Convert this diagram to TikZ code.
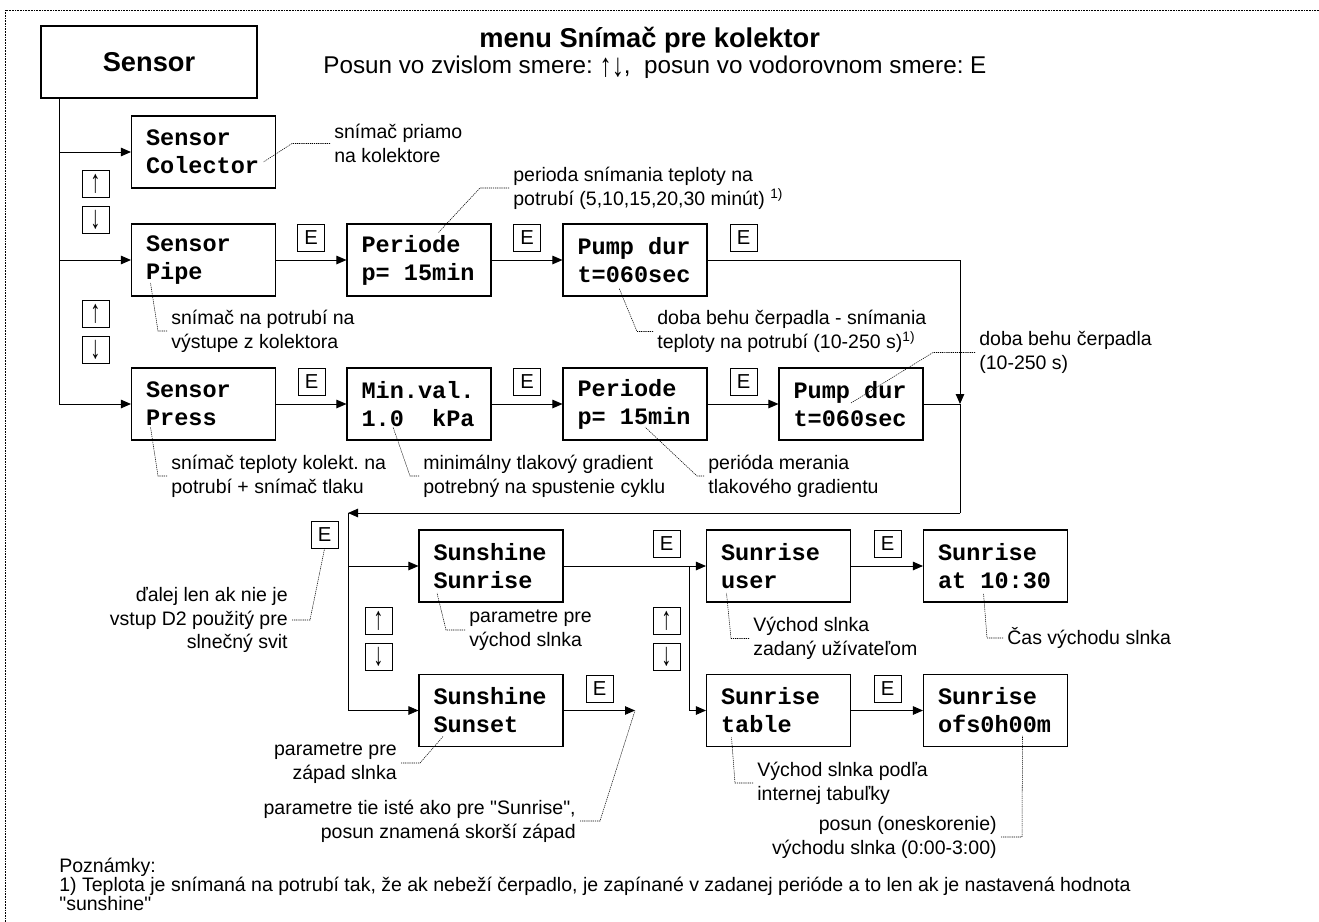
\documentclass[tikz,border=0pt]{standalone}
\usepackage{fontspec}
\setmainfont{Liberation Sans}
\setmonofont{Liberation Mono}
\usetikzlibrary{arrows.meta}
\newcommand\lsp{\phantom{x}}
\newcommand\tallarrows[1]{\scalebox{1}[1.6]{#1}}
\tikzset{
  lcd/.style={draw, line width=0.6pt, minimum width=28.8mm, minimum height=14.4mm, text width=23mm, inner xsep=2.9mm, align=left, font=\fontsize{13.4}{15.9}\selectfont\ttfamily\bfseries},
  ekey/.style={draw, line width=0.5pt, minimum size=5.4mm, inner sep=0pt, font=\fontsize{11.5}{13}\selectfont},
  remark/.style={inner xsep=0.8mm, inner ysep=0pt, align=left, font=\fontsize{11.1}{13.6}\selectfont},
  lead/.style={line width=0.3pt, dash pattern=on 0.7pt off 0.5pt},
  arr/.style={line width=0.5pt, -{Triangle[length=2mm,width=1.7mm]}},
  wire/.style={line width=0.5pt},
  border/.style={line width=0.5pt, dash pattern=on 0.5pt off 0.4pt}
}

\begin{document}
\frenchspacing
\begin{tikzpicture}[x=0.2mm, y=-0.2mm]
\useasboundingbox (0,0) rectangle (1319,922);
\draw[border] (5,922) -- (5,10) -- (1319,10);

\node[draw, line width=0.6pt, minimum width=43.2mm, minimum height=14.4mm, font=\fontsize{15.5}{18}\selectfont\bfseries] (sensor) at (149,62) {Sensor};
\node[anchor=west, inner sep=0pt, font=\fontsize{15.5}{18}\selectfont\bfseries] (title) at (479,40) {menu Snímač pre kolektor};
\node[anchor=west, inner sep=0pt, font=\fontsize{13.8}{16}\selectfont] (subtitle) at (323,67) {Posun vo zvislom smere: \raisebox{-0.25ex}{\scalebox{1}[1.35]{↑↓}},\ \ posun vo vodorovnom smere: E};

\node[lcd] (col) at (203.5,152) {Sensor\\Colector};
\node[lcd] (pipe) at (203.5,260) {Sensor\\Pipe};
\node[lcd] (per1) at (419,260) {Periode\\p=\lsp 15min};
\node[lcd] (pump1) at (635,260) {Pump\lsp dur\\t=060sec};
\node[lcd] (press) at (203.5,404) {Sensor\\Press};
\node[lcd] (minval) at (419,404) {Min.val.\\1.0\lsp\lsp kPa};
\node[lcd] (per2) at (635,404) {Periode\\p=\lsp 15min};
\node[lcd] (pump2) at (851,404) {Pump\lsp dur\\t=060sec};
\node[lcd] (rise) at (491,566) {Sunshine\\Sunrise};
\node[lcd] (set) at (491,710.5) {Sunshine\\Sunset};
\node[lcd] (user) at (778.5,566) {Sunrise\\user};
\node[lcd] (at) at (995.5,566) {Sunrise\\at\lsp 10:30};
\node[lcd] (table) at (778.5,710.5) {Sunrise\\table};
\node[lcd] (ofs) at (995.5,710.5) {Sunrise\\ofs0h00m};

\node[ekey] (up1) at (95.5,183.5) {\tallarrows{↑}};
\node[ekey] (dn1) at (95.5,219.5) {\tallarrows{↓}};
\node[ekey] (up2) at (95.5,314) {\tallarrows{↑}};
\node[ekey] (dn2) at (95.5,350) {\tallarrows{↓}};
\node[ekey] (up3) at (378.5,620.5) {\tallarrows{↑}};
\node[ekey] (dn3) at (378.5,656.5) {\tallarrows{↓}};
\node[ekey] (up4) at (666.5,620.5) {\tallarrows{↑}};
\node[ekey] (dn4) at (666.5,656.5) {\tallarrows{↓}};
\node[ekey] (e1) at (311,237.5) {E};
\node[ekey] (e2) at (527,237.5) {E};
\node[ekey] (e3) at (743.5,237.5) {E};
\node[ekey] (e4) at (311.5,382) {E};
\node[ekey] (e5) at (527,382) {E};
\node[ekey] (e6) at (743.5,382) {E};
\node[ekey] (eret) at (324.5,535) {E};
\node[ekey] (e7) at (666.5,544) {E};
\node[ekey] (e8) at (887.5,544) {E};
\node[ekey] (e9) at (599.5,688.5) {E};
\node[ekey] (e10) at (887.5,688.5) {E};

\coordinate (t) at (59,404);
\coordinate (r) at (960,513);
\coordinate (l) at (348,513);
\coordinate (b) at (689,566);
\coordinate (se) at (635,710.5);

\draw[wire] (sensor.south -| t) -- (t);
\draw[arr] (col.west -| t) -- (col);
\draw[arr] (pipe.west -| t) -- (pipe);
\draw[arr] (t) -- (press);
\draw[arr] (pipe) -- (per1);
\draw[arr] (per1) -- (pump1);
\draw[arr] (pump1) -| (pump2 -| r);
\draw[arr] (press) -- (minval);
\draw[arr] (minval) -- (per2);
\draw[arr] (per2) -- (pump2);
\draw[wire] (pump2) -- (pump2 -| r) -- (r);
\draw[arr] (r) -- (l);
\draw[arr] (l) |- (rise);
\draw[arr] (l) |- (set);
\draw[arr] (rise) -- (user);
\draw[arr] (b) |- (table);
\draw[arr] (user) -- (at);
\draw[arr] (table) -- (ofs);
\draw[arr] (set) -- (se);

\node[remark, anchor=west] (acol) at (330,143.5) {snímač priamo\\na kolektore};
\node[remark, anchor=west] (aper1) at (509,188) {perioda snímania teploty na\\potrubí (5,10,15,20,30 minút) \textsuperscript{1)}};
\node[remark, anchor=west] (apump1) at (653,331.5) {doba behu čerpadla - snímania\\teploty na potrubí (10-250 s)\textsuperscript{1)}};
\node[remark, anchor=west] (apump2) at (975,352.5) {doba behu čerpadla\\(10-250 s)};
\node[remark, anchor=west] (apipe) at (167,331) {snímač na potrubí na\\výstupe z kolektora};
\node[remark, anchor=west] (apress) at (167,476) {snímač teploty kolekt. na\\potrubí + snímač tlaku};
\node[remark, anchor=west] (amin) at (419,476) {minimálny tlakový gradient\\potrebný na spustenie cyklu};
\node[remark, anchor=west] (aper2) at (704,476) {perióda merania\\tlakového gradientu};
\node[remark, anchor=east, align=right] (acond) at (292,620) {ďalej len ak nie je\\vstup D2 použitý pre\\slnečný svit};
\node[remark, anchor=west] (arise) at (465,630) {parametre pre\\východ slnka};
\node[remark, anchor=west] (auser) at (749,638.5) {Východ slnka\\zadaný užívateľom};
\node[remark, anchor=west] (atime) at (1003,638) {Čas východu slnka};
\node[remark, anchor=west] (atable) at (753,783) {Východ slnka podľa\\internej tabuľky};
\node[remark, anchor=east, align=right] (aofs) at (1001,837) {posun (oneskorenie)\\východu slnka (0:00-3:00)};
\node[remark, anchor=east, align=right] (aset) at (401,763) {parametre pre\\západ slnka};
\node[remark, anchor=east, align=right] (asame) at (580,821) {parametre tie isté ako pre \textquotedbl Sunrise\textquotedbl,\\posun znamená skorší západ};
\node[remark, anchor=west, font=\fontsize{11.1}{10.8}\selectfont] (notes) at (55,884) {Poznámky:\\1) Teplota je snímaná na potrubí tak, že ak nebeží čerpadlo, je zapínané v zadanej perióde a to len ak je nastavená hodnota\\\textquotedbl sunshine\textquotedbl};

\draw[lead] (acol.west) -- ++(-38,0) -- ([shift={(60,10)}]col.center);
\draw[lead] (aper1.west) -- ++(-29,0) -- ([shift={(19,-27)}]per1.center);
\draw[lead] (apump1.west) -- ++(-16,0) -- ([shift={(-16,28)}]pump1.center);
\draw[lead] (apump2.west) -- ++(-42,0) -- ([shift={(0,-1)}]pump2.center);
\draw[lead] (apipe.west) -- ++(-9,0) -- ([shift={(-53,23)}]pipe.center);
\draw[lead] (apress.west) -- ++(-9,0) -- ([shift={(-53,23)}]press.center);
\draw[lead] (amin.west) -- ++(-9,0) -- ([shift={(-26,23)}]minval.center);
\draw[lead] (aper2.west) -- ++(-7,0) -- ([shift={(10,23)}]per2.center);
\draw[lead] (acond.east) -- ++(18,0) -- (eret.south);
\draw[lead] (arise.west) -- ++(-19,0) -- ([shift={(-54,27)}]rise.center);
\draw[lead] (auser.west) -- ++(-18,0) -- ([shift={(-52,27)}]user.center);
\draw[lead] (atime.west) -- ++(-16,0) -- ([shift={(-12,27)}]at.center);
\draw[lead] (atable.west) -- ++(-18,0) -- ([shift={(-47,27)}]table.center);
\draw[lead] (aofs.east) -- ++(21,0) -- ([shift={(27,25)}]ofs.center);
\draw[lead] (aset.east) -- ++(19,0) -- ([shift={(-48,26)}]set.center);
\draw[lead] (asame.east) -- ++(20,0) -- (se);
\end{tikzpicture}
\end{document}
